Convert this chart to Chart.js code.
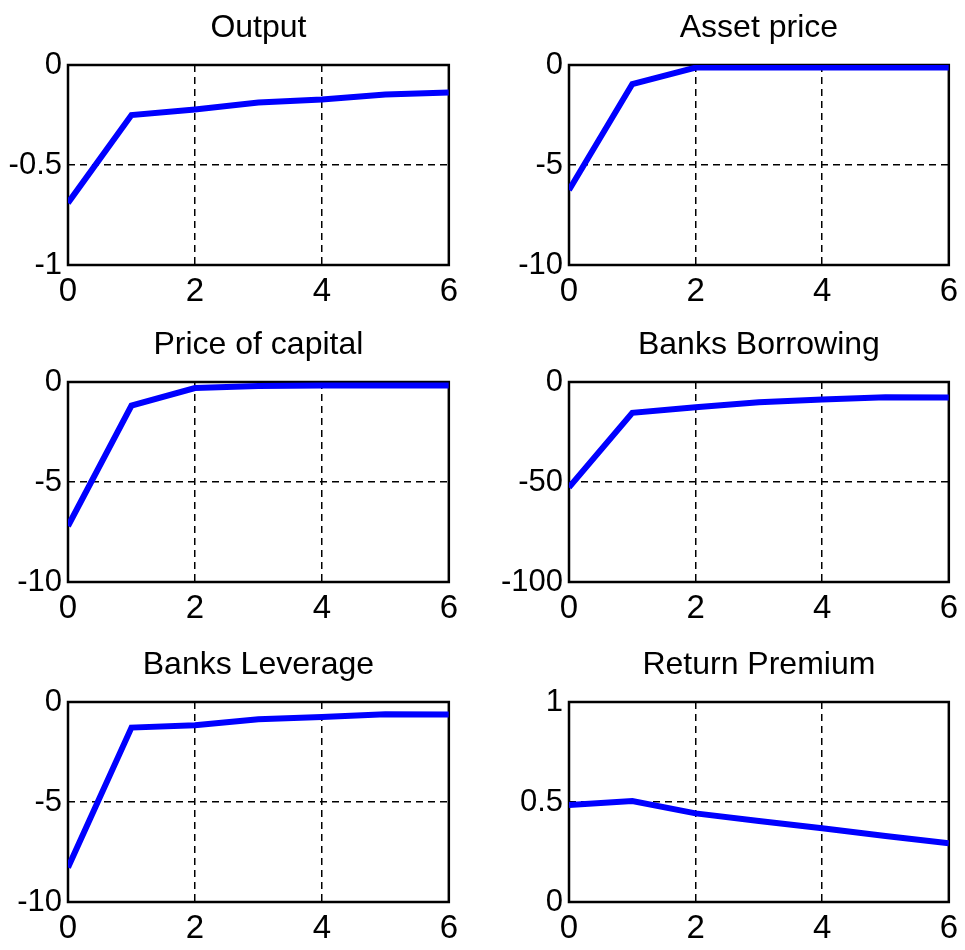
<!DOCTYPE html>
<html>
<head>
<meta charset="utf-8">
<script src="https://cdn.jsdelivr.net/npm/chart.js@4.4.1/dist/chart.umd.min.js"></script>
<style>
  html, body { margin: 0; padding: 0; background: #ffffff; }
  body { width: 965px; height: 950px; position: relative; overflow: hidden; }
  .panel { position: absolute; }
</style>
</head>
<body>
<div class="panel" id="p0"><canvas id="c0"></canvas></div>
<div class="panel" id="p1"><canvas id="c1"></canvas></div>
<div class="panel" id="p2"><canvas id="c2"></canvas></div>
<div class="panel" id="p3"><canvas id="c3"></canvas></div>
<div class="panel" id="p4"><canvas id="c4"></canvas></div>
<div class="panel" id="p5"><canvas id="c5"></canvas></div>
<script>
// ---- Data ----
const periods = [0, 1, 2, 3, 4, 5, 6];
const xTicks = [0, 2, 4, 6];

const titles = ["Output", "Asset price", "Price of capital", "Banks Borrowing", "Banks Leverage", "Return Premium"];

const output         = [-0.69, -0.25, -0.222, -0.188, -0.172, -0.147, -0.137];
const assetPrice     = [-6.25, -0.95, -0.13, -0.12, -0.12, -0.12, -0.12];
const priceOfCapital = [-7.2, -1.18, -0.3, -0.2, -0.18, -0.18, -0.18];
const banksBorrowing = [-52.7, -15.4, -12.6, -10.1, -8.8, -7.6, -7.7];
const banksLeverage  = [-8.27, -1.28, -1.16, -0.86, -0.75, -0.61, -0.63];
const returnPremium  = [0.485, 0.505, 0.443, 0.405, 0.369, 0.33, 0.294];

const yTicksOutput   = [-1, -0.5, 0];
const yTicksTen      = [-10, -5, 0];
const yTicksHundred  = [-100, -50, 0];
const yTicksUnit     = [0, 0.5, 1];

const series = [output, assetPrice, priceOfCapital, banksBorrowing, banksLeverage, returnPremium];
const yTickSets = [yTicksOutput, yTicksTen, yTicksTen, yTicksHundred, yTicksTen, yTicksUnit];

// ---- Layout ----
const FONT = "'Liberation Sans Narrow', 'Arial Narrow', 'Liberation Sans', Arial, sans-serif";
const rowTops = [0, 317, 637];
const colCfg = [
  { left: 0,   width: 465, yAxisWidth: 68, padRight: 15 },
  { left: 480, width: 485, yAxisWidth: 89, padRight: 13 }
];
const PANEL_H = 315;

const framePlugin = {
  id: 'frame',
  beforeDatasetsDraw(chart) {
    const a = chart.chartArea;
    const ctx = chart.ctx;
    ctx.save();
    ctx.strokeStyle = '#000000';
    ctx.lineWidth = 2.5;
    ctx.setLineDash([]);
    ctx.strokeRect(a.left, a.top, a.right - a.left, a.bottom - a.top);
    ctx.restore();
  }
};

series.forEach((vals, i) => {
  const col = colCfg[i % 2];
  const row = Math.floor(i / 2);
  const div = document.getElementById('p' + i);
  div.style.left = col.left + 'px';
  div.style.top = rowTops[row] + 'px';
  div.style.width = col.width + 'px';
  div.style.height = PANEL_H + 'px';
  const yt = yTickSets[i];
  const ymin = yt[0], ymax = yt[yt.length - 1];
  const ymid = yt.slice(1, -1);

  new Chart(document.getElementById('c' + i), {
    type: 'line',
    data: {
      datasets: [{
        data: periods.map((p, k) => ({ x: p, y: vals[k] })),
        borderColor: '#0000ff',
        borderWidth: 6,
        pointRadius: 0,
        tension: 0,
        fill: false
      }]
    },
    options: {
      responsive: true,
      maintainAspectRatio: false,
      animation: false,
      layout: { padding: { left: 0, right: col.padRight, top: 0, bottom: 0 } },
      plugins: {
        legend: { display: false },
        tooltip: { enabled: false },
        title: {
          display: true,
          text: titles[i],
          fullSize: false,
          color: '#000000',
          font: { family: FONT, size: 32, weight: 'normal' },
          padding: { top: 9, bottom: 17.6 }
        }
      },
      scales: {
        x: {
          type: 'linear',
          min: 0, max: 6,
          afterBuildTicks: s => { s.ticks = xTicks.map(v => ({ value: v })); },
          afterFit: s => { s.height = 50; },
          ticks: {
            color: '#000000',
            font: { family: FONT, size: 33 },
            padding: 7,
            maxRotation: 0,
            autoSkip: false,
            callback: v => String(v)
          },
          grid: {
            drawTicks: false,
            color: c => (c.tick && xTicks.slice(1, -1).includes(c.tick.value)) ? '#000000' : 'rgba(0,0,0,0)',
            lineWidth: 1.5
          },
          border: { display: false, dash: [7, 5] }
        },
        y: {
          type: 'linear',
          min: ymin, max: ymax,
          afterBuildTicks: s => { s.ticks = yt.map(v => ({ value: v })); },
          afterFit: s => { s.width = col.yAxisWidth; },
          ticks: {
            color: '#000000',
            font: { family: FONT, size: 31 },
            padding: 6,
            autoSkip: false,
            callback: v => String(v)
          },
          grid: {
            drawTicks: false,
            color: c => (c.tick && ymid.includes(c.tick.value)) ? '#000000' : 'rgba(0,0,0,0)',
            lineWidth: 1.5
          },
          border: { display: false, dash: [7, 5] }
        }
      }
    },
    plugins: [framePlugin]
  });
});
</script>
</body>
</html>
